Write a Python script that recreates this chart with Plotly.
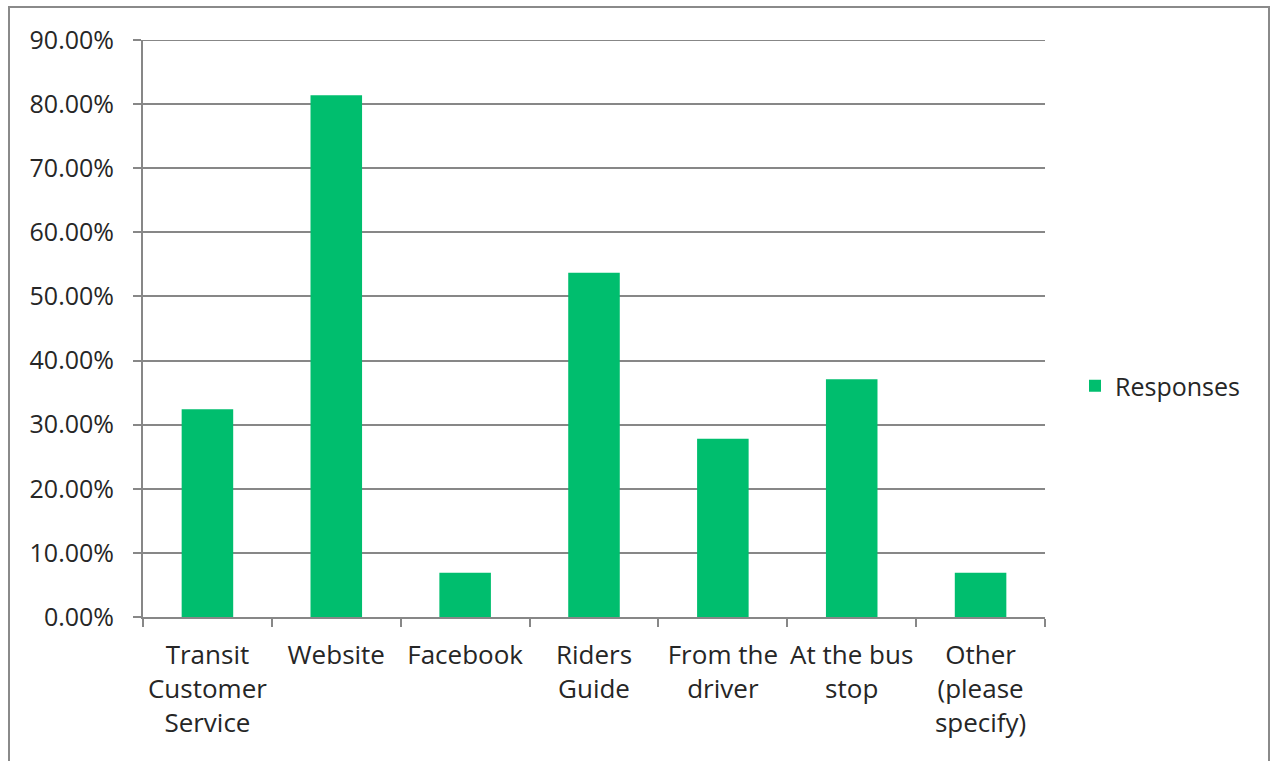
import plotly.graph_objects as go

categories = ["Transit<br>Customer<br>Service", "Website", "Facebook", "Riders<br>Guide",
              "From the<br>driver", "At the bus<br>stop", "Other<br>(please<br>specify)"]
values = [0.324, 0.814, 0.069, 0.537, 0.278, 0.371, 0.069]
series_name = "Responses"
y_ticks = [i / 10 for i in range(10)]
y_tick_labels = [f"{v*100:.2f}%" for v in y_ticks]

W, H = 1271, 761
L, R, T, B = 143, 1045, 40, 617  # plot area in screen pixels
pw, ph = R - L, B - T

def px_x(p):
    return (p - L) / pw

def px_y(p):
    return (B - p) / ph

fig = go.Figure()
fig.add_trace(go.Bar(x=categories, y=values, name=series_name,
                     marker=dict(color="#00BE6E", line=dict(width=0)),
                     showlegend=True))

grid = "#878787"
txt = "#262626"
fig.update_layout(
    width=W, height=H,
    margin=dict(l=L, r=W - R, t=T, b=H - B),
    paper_bgcolor="white", plot_bgcolor="white",
    bargap=0.6,
    font=dict(family="Open Sans", size=25, color=txt),
    xaxis=dict(type="category", showline=True, linecolor=grid, linewidth=2,
               ticks="outside", tickson="boundaries", ticklen=8, tickcolor=grid, tickwidth=2,
               showgrid=False, tickangle=0, tickfont=dict(size=26, color=txt),
               ticklabelstandoff=14, fixedrange=True),
    yaxis=dict(range=[0, 0.9], tickvals=y_ticks + [0.9],
               ticktext=y_tick_labels + ["90.00%"],
               showline=True, linecolor=grid, linewidth=2,
               ticks="outside", ticklen=8, tickcolor=grid, tickwidth=2,
               showgrid=True, gridcolor=grid, gridwidth=2, zeroline=False,
               tickfont=dict(size=25, color=txt), ticklabelstandoff=14,
               fixedrange=True),
    legend=dict(x=px_x(1075), y=px_y(386), xanchor="left", yanchor="middle",
                font=dict(size=25, color=txt), bgcolor="rgba(0,0,0,0)"),
)

# top gridline at 90%
fig.add_shape(type="line", xref="paper", yref="y", x0=px_x(135), x1=1, y0=0.9, y1=0.9,
              line=dict(color=grid, width=2))

# outer chart frame
fig.add_shape(type="path", xref="paper", yref="paper",
              path=f"M {px_x(9)} {px_y(770)} L {px_x(9)} {px_y(7)} L {px_x(1269)} {px_y(7)} L {px_x(1269)} {px_y(770)}",
              line=dict(color="#8a8a8a", width=2))

fig.write_html("out.html", config={"displayModeBar": False},
               post_script="document.body.style.margin='0';document.body.style.overflow='hidden';")
